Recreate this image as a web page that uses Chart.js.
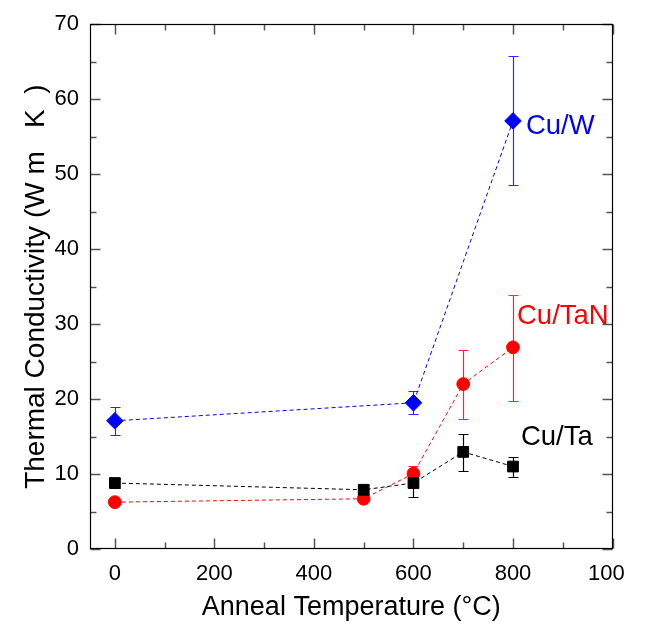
<!DOCTYPE html>
<html><head><meta charset="utf-8">
<script src="https://cdn.jsdelivr.net/npm/chart.js@4"></script>
<style>
html,body{margin:0;padding:0;background:#fff;}
#wrap{width:625px;height:627px;overflow:hidden;background:#fff;}
canvas{display:block;}
</style>
</head><body>
<div id="wrap"><canvas id="c" width="649" height="627"></canvas></div>
<script>
// ---- data ----
const tempsW = [0, 600, 800];
const condW = [17.1, 19.5, 57.1];
const errLoW = [15.2, 17.95, 48.5];
const errHiW = [19.0, 21.1, 65.7];

const tempsTaN = [0, 500, 600, 700, 800];
const condTaN = [6.25, 6.7, 10.05, 22.0, 26.9];
const errLoTaN = [6.0, 6.4, 9.3, 17.4, 19.8];
const errHiTaN = [6.5, 7.0, 11.1, 26.6, 33.9];

const tempsTa = [0, 500, 600, 700, 800];
const condTa = [8.8, 7.9, 8.8, 12.95, 11.0];
const errLoTa = [8.2, 7.3, 6.9, 10.4, 9.6];
const errHiTa = [9.4, 8.5, 10.4, 15.3, 12.3];

const seriesNames = ['Cu/Ta', 'Cu/TaN', 'Cu/W'];
const labelX = [816, 808, 826];
const labelY = [14.9, 31.0, 56.4];

const xTicks = [0, 200, 400, 600, 800, 1000];
const xMinorTicks = [100, 300, 500, 700, 900];
const yTicks = [0, 10, 20, 30, 40, 50, 60, 70];
const yMinorTicks = [5, 15, 25, 35, 45, 55, 65];

const xTitle = 'Anneal Temperature (°C)';
const yTitle = 'Thermal Conductivity (W m   K  )';

// ---- build ----
const FONT = '"Liberation Sans", Arial, Helvetica, sans-serif';
Chart.defaults.font.family = FONT;
Chart.defaults.color = '#000';

function pts(xs, ys) { return xs.map((x, i) => ({x: x, y: ys[i]})); }

const series = [
  {name: seriesNames[0], color: 'rgb(0,0,0)', bar: 'rgb(0,0,0)', xs: tempsTa, ys: condTa, lo: errLoTa, hi: errHiTa, style: 'rect', r: 7.6},
  {name: seriesNames[1], color: 'rgb(255,0,0)', bar: 'rgb(255,40,40)', xs: tempsTaN, ys: condTaN, lo: errLoTaN, hi: errHiTaN, style: 'circle', r: 6.4},
  {name: seriesNames[2], color: 'rgb(0,0,255)', bar: 'rgb(40,40,255)', xs: tempsW, ys: condW, lo: errLoW, hi: errHiW, style: 'rectRot', r: 8.3}
];

const errorBars = {
  id: 'errorBars',
  beforeDatasetsDraw(chart) {
    const ctx = chart.ctx;
    const x = chart.scales.x, y = chart.scales.y;
    series.forEach(s => {
      s.xs.forEach((xv, i) => {
        const px = Math.round(x.getPixelForValue(xv)) + 0.5;
        const pl = Math.round(y.getPixelForValue(s.lo[i])) + 0.5;
        const ph = Math.round(y.getPixelForValue(s.hi[i])) + 0.5;
        ctx.save();
        ctx.setLineDash([]);
        ctx.lineWidth = 1.2;
        ctx.strokeStyle = s.bar;
        ctx.beginPath();
        ctx.moveTo(px, pl); ctx.lineTo(px, ph);
        ctx.moveTo(px - 5, pl); ctx.lineTo(px + 5, pl);
        ctx.moveTo(px - 5, ph); ctx.lineTo(px + 5, ph);
        ctx.stroke();
        ctx.restore();
      });
    });
  }
};

const frameTicks = {
  id: 'frameTicks',
  afterDraw(chart) {
    const {ctx, chartArea: a, scales: {x, y}} = chart;
    ctx.save();
    ctx.setLineDash([]);
    const L = Math.round(a.left) + 0.5, R = Math.round(a.right) - 0.5;
    const T = Math.round(a.top) + 0.5, B = Math.round(a.bottom) - 0.5;
    ctx.strokeStyle = '#555';
    ctx.lineWidth = 1.5;
    const tick = (vals, len) => {
      vals.forEach(v => {
        const px = Math.round(x.getPixelForValue(v)) + 0.5;
        ctx.beginPath();
        ctx.moveTo(px, B); ctx.lineTo(px, B - len);
        ctx.moveTo(px, T); ctx.lineTo(px, T + len);
        ctx.stroke();
      });
    };
    const ytick = (vals, len) => {
      vals.forEach(v => {
        const py = Math.round(y.getPixelForValue(v)) + 0.5;
        ctx.beginPath();
        ctx.moveTo(L, py); ctx.lineTo(L + len, py);
        ctx.moveTo(R, py); ctx.lineTo(R - len, py);
        ctx.stroke();
      });
    };
    tick(xTicks, 10); tick(xMinorTicks, 6);
    ytick(yTicks, 10); ytick(yMinorTicks, 6);
    ctx.strokeStyle = '#000';
    ctx.lineWidth = 1.2;
    ctx.strokeRect(L, T, R - L, B - T);
    // series labels
    ctx.font = '27.5px ' + FONT;
    ctx.textAlign = 'left';
    ctx.textBaseline = 'middle';
    series.forEach((s, i) => {
      ctx.fillStyle = s.color;
      ctx.fillText(s.name, x.getPixelForValue(labelX[i]), y.getPixelForValue(labelY[i]));
    });
    ctx.restore();
  }
};

new Chart(document.getElementById('c'), {
  type: 'scatter',
  data: {
    datasets: series.map(s => ({
      label: s.name,
      data: pts(s.xs, s.ys),
      showLine: true,
      borderColor: s.color,
      backgroundColor: s.color,
      borderWidth: 1,
      borderDash: [4, 3],
      pointStyle: s.style,
      pointRadius: s.r,
      pointHoverRadius: s.r,
      pointBorderWidth: 1,
      pointBorderColor: s.color,
      pointBackgroundColor: s.color
    }))
  },
  options: {
    responsive: false,
    animation: false,
    devicePixelRatio: 1,
    layout: {padding: {top: 17, right: 33, bottom: 0, left: 0}},
    plugins: {legend: {display: false}, tooltip: {enabled: false}},
    scales: {
      x: {
        type: 'linear', min: -50, max: 1000,
        grid: {display: false, drawTicks: false},
        border: {display: false},
        afterBuildTicks: sc => { sc.ticks = xTicks.map(v => ({value: v})); },
        afterFit: sc => { sc.height = 78; },
        ticks: {font: {size: 22}, padding: 12, maxRotation: 0, autoSkip: false, callback: v => String(v)},
        title: {display: true, text: xTitle, font: {size: 27}, padding: {top: 0, bottom: 3}}
      },
      y: {
        type: 'linear', min: 0, max: 70,
        grid: {display: false, drawTicks: false},
        border: {display: false},
        afterBuildTicks: sc => { sc.ticks = yTicks.map(v => ({value: v})); },
        afterFit: sc => { sc.width = 90; },
        ticks: {font: {size: 22}, padding: 11, autoSkip: false, callback: v => String(v)},
        title: {display: true, text: yTitle, font: {size: 28}, padding: {top: 19, bottom: 0}}
      }
    }
  },
  plugins: [errorBars, frameTicks]
});
</script>
</body></html>
